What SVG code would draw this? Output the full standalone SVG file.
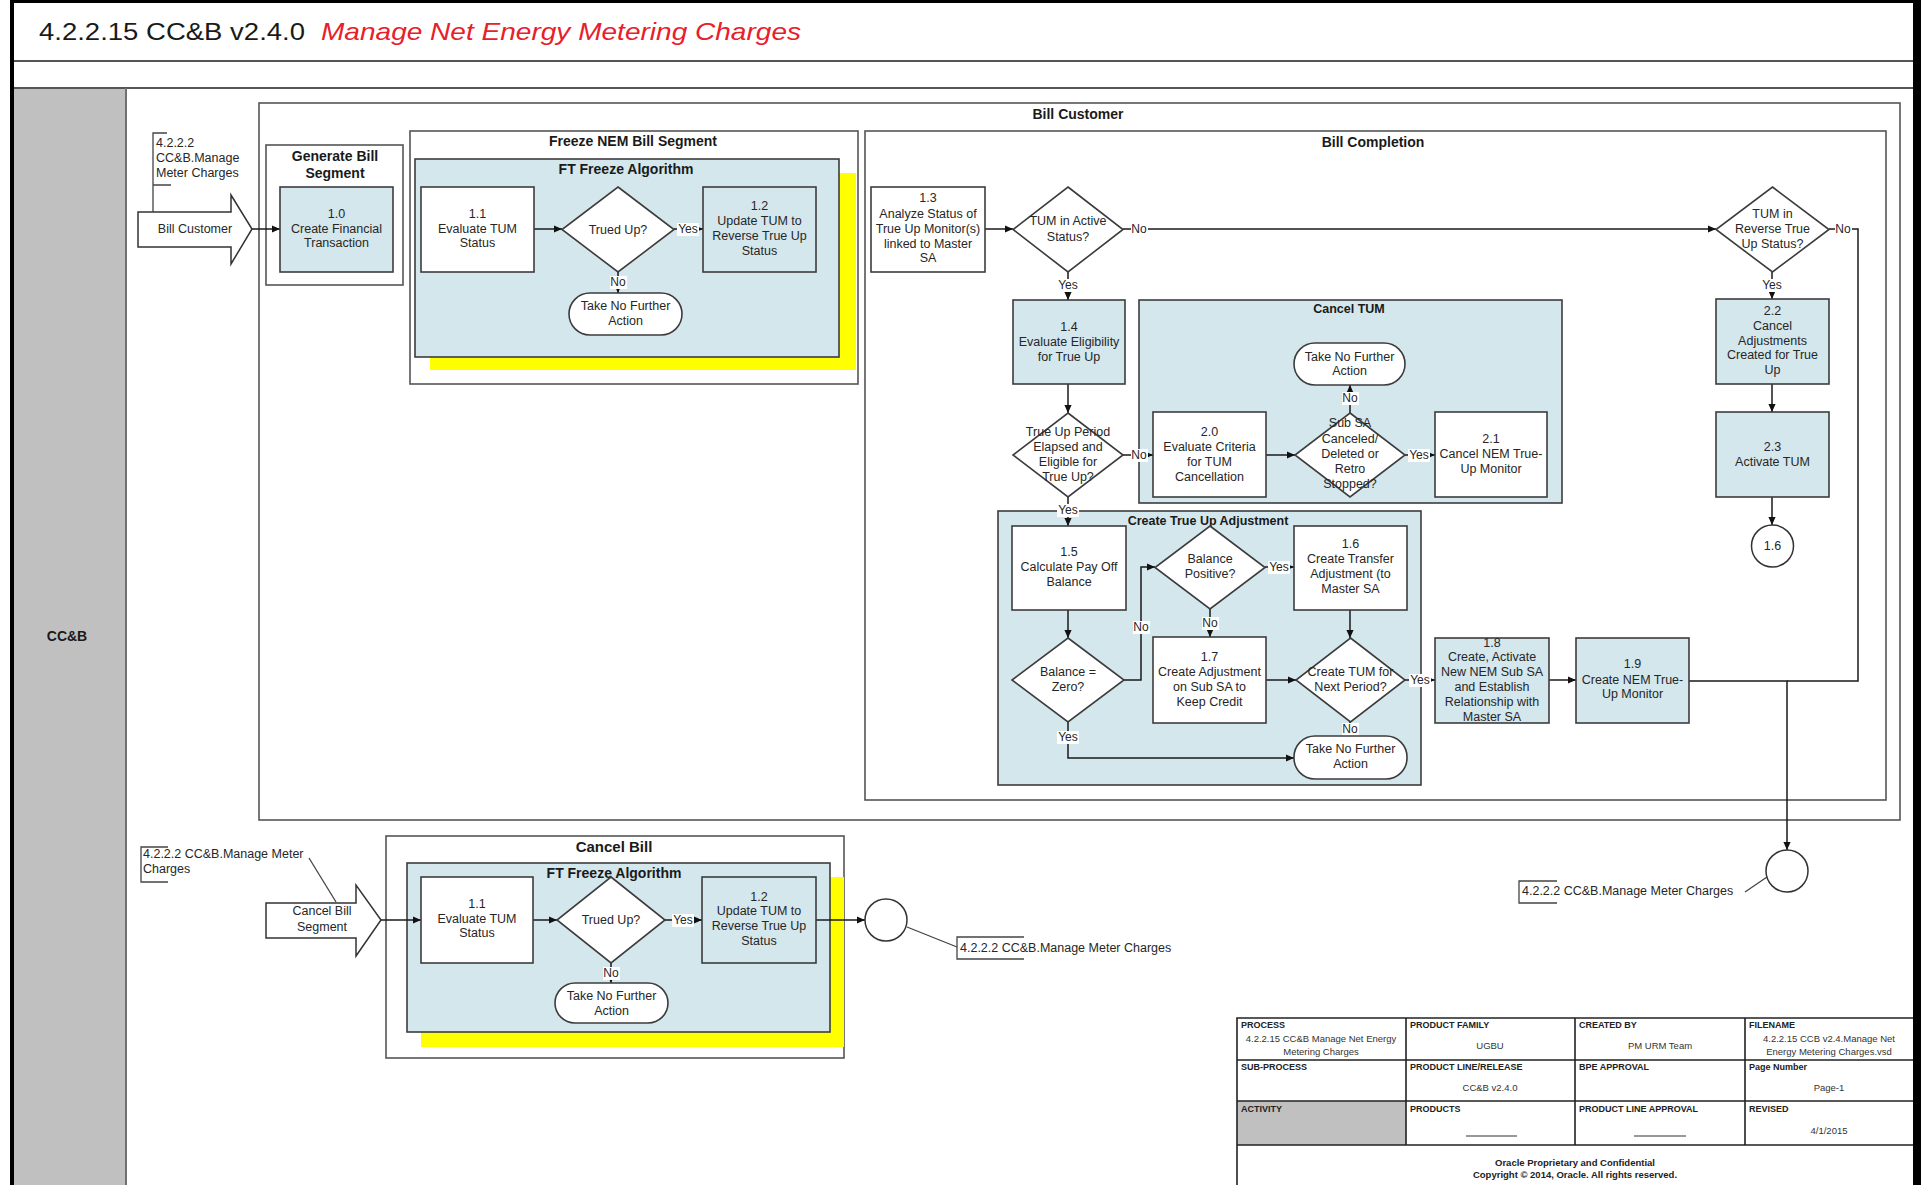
<svg xmlns="http://www.w3.org/2000/svg" width="1921" height="1185" viewBox="0 0 1921 1185">
<defs>
<marker id="ah" viewBox="0 0 10 10" refX="10" refY="5" markerWidth="9" markerHeight="8" markerUnits="userSpaceOnUse" orient="auto"><path d="M0,0.5 L10,5 L0,9.5 z" fill="#111"/></marker>
</defs>
<style>
.grp{fill:#fff;stroke:#555;stroke-width:1.6}
.blue{fill:#D4E7ED;stroke:#3c3c3c;stroke-width:1.6}
.wbox{fill:#fff;stroke:#3c3c3c;stroke-width:1.6}
.yel{fill:#FFFF00}
.conn{fill:none;stroke:#1a1a1a;stroke-width:1.5}
.arr{marker-end:url(#ah)}
.ann{fill:none;stroke:#444;stroke-width:1.3}
text{font-family:"Liberation Sans",Arial,sans-serif}
.t{font-size:12.5px;fill:#262626;text-anchor:middle}
.tl{font-size:12.5px;fill:#262626}
.gl{font-size:14px;font-weight:bold;fill:#1a1a1a;text-anchor:middle}
.gs{font-size:12.5px;font-weight:bold;fill:#1a1a1a;text-anchor:middle}
.lb{font-size:12px;fill:#262626;text-anchor:middle}
.lbg{fill:#fff}
.th{font-size:9px;font-weight:bold;fill:#222}
.tv{font-size:9.5px;fill:#333;text-anchor:middle}
.tf{font-size:9.5px;font-weight:bold;fill:#222;text-anchor:middle}
</style>

<!-- page frame -->
<rect x="0" y="0" width="1921" height="1185" fill="#fff"/>
<rect x="14" y="88" width="112" height="1097" fill="#C0C0C0"/>
<line x1="14" y1="61" x2="1913" y2="61" stroke="#555" stroke-width="2"/>
<line x1="14" y1="88" x2="1913" y2="88" stroke="#555" stroke-width="2"/>
<line x1="126" y1="88" x2="126" y2="1185" stroke="#707070" stroke-width="2"/>
<rect x="10" y="0" width="4" height="1185" fill="#000"/>
<rect x="10" y="0" width="1911" height="3" fill="#000"/>
<rect x="1913" y="0" width="8" height="1185" fill="#000"/>

<!-- title -->
<text x="39" y="40" font-size="24" fill="#1a1a1a" textLength="266" lengthAdjust="spacingAndGlyphs">4.2.2.15 CC&amp;B v2.4.0</text>
<text x="321" y="40" font-size="24" font-style="italic" fill="#E8202A" textLength="480" lengthAdjust="spacingAndGlyphs">Manage Net Energy Metering Charges</text>

<text x="67" y="641" font-size="14" font-weight="bold" fill="#1a1a1a" text-anchor="middle">CC&amp;B</text>

<!-- containers -->
<g id="bill-customer">
<rect class="grp" x="259" y="103" width="1641" height="717"/>
<text class="gl" x="1078" y="119">Bill Customer</text>
</g>
<g id="generate-bill-segment">
<rect class="grp" x="266" y="145" width="137" height="140"/>
<text class="gl" x="335" y="161">Generate Bill</text>
<text class="gl" x="335" y="178">Segment</text>
</g>
<g id="freeze-nem-bill-segment">
<rect class="grp" x="410" y="131" width="448" height="253"/>
<text class="gl" x="633" y="146">Freeze NEM Bill Segment</text>
</g>
<g id="ft-freeze-algorithm">
<rect class="yel" x="430" y="173" width="426" height="197"/>
<rect class="blue" x="415" y="159" width="424" height="198"/>
<text class="gl" x="626" y="174">FT Freeze Algorithm</text>
</g>
<g id="bill-completion">
<rect class="grp" x="865" y="131" width="1021" height="669"/>
<text class="gl" x="1373" y="147">Bill Completion</text>
</g>
<g id="cancel-tum">
<rect class="blue" x="1139" y="300" width="423" height="203"/>
<text class="gs" x="1349" y="313">Cancel TUM</text>
</g>
<g id="create-true-up-adjustment">
<rect class="blue" x="998" y="511" width="423" height="274"/>
<text class="gs" x="1208" y="525">Create True Up Adjustment</text>
</g>
<g id="cancel-bill">
<rect class="grp" x="386" y="836" width="458" height="222"/>
<text x="614" y="852" font-size="15" font-weight="bold" fill="#1a1a1a" text-anchor="middle">Cancel Bill</text>
</g>
<g id="cb-ft-freeze-algorithm">
<rect class="yel" x="421" y="877" width="423" height="170"/>
<rect class="blue" x="407" y="863" width="423" height="169"/>
<text class="gl" x="614" y="878">FT Freeze Algorithm</text>
</g>

<!-- connectors -->
<g id="connectors">
<path class="conn arr" d="M252,229 H280"/>
<path class="conn arr" d="M534,229 H562"/>
<path class="conn arr" d="M674,229 H703"/>
<path class="conn arr" d="M618,272 V293"/>
<path class="conn arr" d="M985,229 H1013"/>
<path class="conn arr" d="M1123,229 H1716"/>
<path class="conn arr" d="M1068,272 V300"/>
<path class="conn arr" d="M1068,384 V413"/>
<path class="conn arr" d="M1123,455 H1153"/>
<path class="conn arr" d="M1068,497 V526"/>
<path class="conn arr" d="M1266,455 H1295"/>
<path class="conn arr" d="M1405,455 H1435"/>
<path class="conn arr" d="M1350,413 V385"/>
<path class="conn arr" d="M1772,272 V299"/>
<path class="conn arr" d="M1772,384 V412"/>
<path class="conn arr" d="M1772,497 V525"/>
<path class="conn" d="M1829,229 H1858 V681 H1787"/>
<path class="conn arr" d="M1068,610 V638"/>
<path class="conn arr" d="M1124,680 H1141 V567 H1155"/>
<path class="conn arr" d="M1265,567 H1294"/>
<path class="conn arr" d="M1210,609 V637"/>
<path class="conn arr" d="M1266,680 H1296"/>
<path class="conn arr" d="M1350,610 V638"/>
<path class="conn arr" d="M1405,680 H1435"/>
<path class="conn arr" d="M1350,722 V736"/>
<path class="conn arr" d="M1068,722 V758 H1294"/>
<path class="conn arr" d="M1549,680 H1576"/>
<path class="conn arr" d="M1689,681 H1787 V850"/>
<path class="conn arr" d="M381,920 H421"/>
<path class="conn arr" d="M533,920 H557"/>
<path class="conn arr" d="M665,920 H702"/>
<path class="conn arr" d="M611,963 V983"/>
<path class="conn arr" d="M816,920 H865"/>
<!-- labels -->
<rect class="lbg" x="677" y="223" width="22" height="13"/><text class="lb" x="688" y="233">Yes</text>
<rect class="lbg" x="610" y="276" width="17" height="13"/><text class="lb" x="618" y="286">No</text>
<rect class="lbg" x="1131" y="223" width="17" height="13"/><text class="lb" x="1139" y="233">No</text>
<rect class="lbg" x="1057" y="279" width="22" height="13"/><text class="lb" x="1068" y="289">Yes</text>
<rect class="lbg" x="1131" y="449" width="17" height="13"/><text class="lb" x="1139" y="459">No</text>
<rect class="lbg" x="1057" y="504" width="22" height="13"/><text class="lb" x="1068" y="514">Yes</text>
<rect class="lbg" x="1408" y="449" width="22" height="13"/><text class="lb" x="1419" y="459">Yes</text>
<rect class="lbg" x="1342" y="392" width="17" height="13"/><text class="lb" x="1350" y="402">No</text>
<rect class="lbg" x="1761" y="279" width="22" height="13"/><text class="lb" x="1772" y="289">Yes</text>
<rect class="lbg" x="1835" y="223" width="17" height="13"/><text class="lb" x="1843" y="233">No</text>
<rect class="lbg" x="1133" y="621" width="17" height="13"/><text class="lb" x="1141" y="631">No</text>
<rect class="lbg" x="1268" y="561" width="22" height="13"/><text class="lb" x="1279" y="571">Yes</text>
<rect class="lbg" x="1202" y="617" width="17" height="13"/><text class="lb" x="1210" y="627">No</text>
<rect class="lbg" x="1409" y="674" width="22" height="13"/><text class="lb" x="1420" y="684">Yes</text>
<rect class="lbg" x="1342" y="723" width="17" height="13"/><text class="lb" x="1350" y="733">No</text>
<rect class="lbg" x="1057" y="731" width="22" height="13"/><text class="lb" x="1068" y="741">Yes</text>
<rect class="lbg" x="672" y="914" width="22" height="13"/><text class="lb" x="683" y="924">Yes</text>
<rect class="lbg" x="603" y="967" width="17" height="13"/><text class="lb" x="611" y="977">No</text>
</g>

<!-- nodes -->
<g id="bill-customer-arrow">
<polygon points="138,212 231,212 231,195 252,229 231,264 231,247 138,247" fill="#fff" stroke="#333" stroke-width="1.5"/>
<text class="t" x="195" y="233" font-size="12">Bill Customer</text>
</g>
<g id="ref-meter-charges-1">
<path class="ann" d="M167,133 H153 V212 M153,185 H171"/>
<text class="tl" x="156" y="147" font-size="12">4.2.2.2</text>
<text class="tl" x="156" y="162" font-size="12">CC&amp;B.Manage</text>
<text class="tl" x="156" y="177" font-size="12">Meter Charges</text>
</g>
<g id="n1-0">
<rect class="blue" x="280" y="187" width="113" height="85"/>
<text class="t" x="336.5" y="218">1.0</text><text class="t" x="336.5" y="233">Create Financial</text><text class="t" x="336.5" y="247">Transaction</text>
</g>
<g id="n1-1">
<rect class="wbox" x="421" y="187" width="113" height="85"/>
<text class="t" x="477.5" y="218">1.1</text><text class="t" x="477.5" y="233">Evaluate TUM</text><text class="t" x="477.5" y="247">Status</text>
</g>
<g id="d-trued-up">
<polygon class="wbox" points="618,187 674,229.5 618,272 562,229.5"/>
<text class="t" x="618" y="234">Trued Up?</text>
</g>
<g id="n1-2">
<rect class="blue" x="703" y="187" width="113" height="85"/>
<text class="t" x="759.5" y="210">1.2</text><text class="t" x="759.5" y="225">Update TUM to</text><text class="t" x="759.5" y="240">Reverse True Up</text><text class="t" x="759.5" y="255">Status</text>
</g>
<g id="term-1">
<rect class="wbox" x="569" y="293" width="113" height="42" rx="21"/>
<text class="t" x="625.5" y="310">Take No Further</text><text class="t" x="625.5" y="325">Action</text>
</g>
<g id="n1-3">
<rect class="wbox" x="871" y="187" width="114" height="85"/>
<text class="t" x="928" y="202">1.3</text><text class="t" x="928" y="218">Analyze Status of</text><text class="t" x="928" y="233">True Up Monitor(s)</text><text class="t" x="928" y="248">linked to Master</text><text class="t" x="928" y="262">SA</text>
</g>
<g id="d-tum-active">
<polygon class="wbox" points="1068,187 1123,229.5 1068,272 1013,229.5"/>
<text class="t" x="1068" y="225">TUM in Active</text><text class="t" x="1068" y="241">Status?</text>
</g>
<g id="d-tum-reverse">
<polygon class="wbox" points="1772.5,187 1829,229.5 1772.5,272 1716,229.5"/>
<text class="t" x="1772.5" y="218">TUM in</text><text class="t" x="1772.5" y="233">Reverse True</text><text class="t" x="1772.5" y="248">Up Status?</text>
</g>
<g id="n1-4">
<rect class="blue" x="1013" y="300" width="112" height="84"/>
<text class="t" x="1069" y="331">1.4</text><text class="t" x="1069" y="346">Evaluate Eligibility</text><text class="t" x="1069" y="361">for True Up</text>
</g>
<g id="d-true-up-period">
<polygon class="wbox" points="1068,413 1123,455 1068,497 1013,455"/>
<text class="t" x="1068" y="436">True Up Period</text><text class="t" x="1068" y="451">Elapsed and</text><text class="t" x="1068" y="466">Eligible for</text><text class="t" x="1068" y="481">True Up?</text>
</g>
<g id="term-cancel-tum">
<rect class="wbox" x="1294" y="343" width="111" height="42" rx="21"/>
<text class="t" x="1349.5" y="361">Take No Further</text><text class="t" x="1349.5" y="375">Action</text>
</g>
<g id="n2-0">
<rect class="wbox" x="1153" y="412" width="113" height="85"/>
<text class="t" x="1209.5" y="436">2.0</text><text class="t" x="1209.5" y="451">Evaluate Criteria</text><text class="t" x="1209.5" y="466">for TUM</text><text class="t" x="1209.5" y="481">Cancellation</text>
</g>
<g id="d-sub-sa">
<polygon class="wbox" points="1350,413 1405,455 1350,497 1295,455"/>
<text class="t" x="1350" y="427">Sub SA</text><text class="t" x="1350" y="443">Canceled/</text><text class="t" x="1350" y="458">Deleted or</text><text class="t" x="1350" y="473">Retro</text><text class="t" x="1350" y="488">Stopped?</text>
</g>
<g id="n2-1">
<rect class="wbox" x="1435" y="412" width="112" height="85"/>
<text class="t" x="1491" y="443">2.1</text><text class="t" x="1491" y="458">Cancel NEM True-</text><text class="t" x="1491" y="473">Up Monitor</text>
</g>
<g id="n2-2">
<rect class="blue" x="1716" y="299" width="113" height="85"/>
<text class="t" x="1772.5" y="315">2.2</text><text class="t" x="1772.5" y="330">Cancel</text><text class="t" x="1772.5" y="345">Adjustments</text><text class="t" x="1772.5" y="359">Created for True</text><text class="t" x="1772.5" y="374">Up</text>
</g>
<g id="n2-3">
<rect class="blue" x="1716" y="412" width="113" height="85"/>
<text class="t" x="1772.5" y="451">2.3</text><text class="t" x="1772.5" y="466">Activate TUM</text>
</g>
<g id="c1-6">
<circle cx="1772.5" cy="546" r="21" fill="#fff" stroke="#333" stroke-width="1.5"/>
<text class="t" x="1772.5" y="550">1.6</text>
</g>
<g id="n1-5">
<rect class="wbox" x="1012" y="526" width="114" height="84"/>
<text class="t" x="1069" y="556">1.5</text><text class="t" x="1069" y="571">Calculate Pay Off</text><text class="t" x="1069" y="586">Balance</text>
</g>
<g id="d-balance-zero">
<polygon class="wbox" points="1068,638 1124,680 1068,722 1012,680"/>
<text class="t" x="1068" y="676">Balance =</text><text class="t" x="1068" y="691">Zero?</text>
</g>
<g id="d-balance-positive">
<polygon class="wbox" points="1210,526 1265,567.5 1210,609 1155,567.5"/>
<text class="t" x="1210" y="563">Balance</text><text class="t" x="1210" y="578">Positive?</text>
</g>
<g id="n1-6">
<rect class="wbox" x="1294" y="526" width="113" height="84"/>
<text class="t" x="1350.5" y="548">1.6</text><text class="t" x="1350.5" y="563">Create Transfer</text><text class="t" x="1350.5" y="578">Adjustment (to</text><text class="t" x="1350.5" y="593">Master SA</text>
</g>
<g id="n1-7">
<rect class="wbox" x="1153" y="637" width="113" height="86"/>
<text class="t" x="1209.5" y="661">1.7</text><text class="t" x="1209.5" y="676">Create Adjustment</text><text class="t" x="1209.5" y="691">on Sub SA to</text><text class="t" x="1209.5" y="706">Keep Credit</text>
</g>
<g id="d-create-tum">
<polygon class="wbox" points="1350.5,638 1405,680 1350.5,722 1296,680"/>
<text class="t" x="1350.5" y="676">Create TUM for</text><text class="t" x="1350.5" y="691">Next Period?</text>
</g>
<g id="term-cta">
<rect class="wbox" x="1294" y="736" width="113" height="43" rx="21"/>
<text class="t" x="1350.5" y="753">Take No Further</text><text class="t" x="1350.5" y="768">Action</text>
</g>
<g id="n1-8">
<rect class="blue" x="1435" y="638" width="114" height="85"/>
<text class="t" x="1492" y="647">1.8</text><text class="t" x="1492" y="661">Create, Activate</text><text class="t" x="1492" y="676">New NEM Sub SA</text><text class="t" x="1492" y="691">and Establish</text><text class="t" x="1492" y="706">Relationship with</text><text class="t" x="1492" y="721">Master SA</text>
</g>
<g id="n1-9">
<rect class="blue" x="1576" y="638" width="113" height="85"/>
<text class="t" x="1632.5" y="668">1.9</text><text class="t" x="1632.5" y="684">Create NEM True-</text><text class="t" x="1632.5" y="698">Up Monitor</text>
</g>
<g id="offpage-1">
<circle cx="1787" cy="871" r="21" fill="#fff" stroke="#333" stroke-width="1.5"/>
</g>
<g id="ref-meter-charges-2">
<path class="ann" d="M1767,877 L1745,892"/>
<path class="ann" d="M1557,881 H1519 V903 H1557"/>
<text class="tl" x="1522" y="895">4.2.2.2 CC&amp;B.Manage Meter Charges</text>
</g>

<!-- cancel bill -->
<g id="cancel-bill-segment-arrow">
<polygon points="266,903 356,903 356,885 381,920 356,956 356,938 266,938" fill="#fff" stroke="#333" stroke-width="1.5"/>
<text class="t" x="322" y="915" font-size="12">Cancel Bill</text>
<text class="t" x="322" y="931" font-size="12">Segment</text>
</g>
<g id="ref-meter-charges-3">
<path class="ann" d="M168,847 H141 V882 H168"/>
<path class="ann" d="M309,858 L336,902"/>
<text class="tl" x="143" y="858" font-size="12">4.2.2.2 CC&amp;B.Manage Meter</text>
<text class="tl" x="143" y="873" font-size="12">Charges</text>
</g>
<g id="cb-n1-1">
<rect class="wbox" x="421" y="877" width="112" height="86"/>
<text class="t" x="477" y="908">1.1</text><text class="t" x="477" y="923">Evaluate TUM</text><text class="t" x="477" y="937">Status</text>
</g>
<g id="cb-d-trued-up">
<polygon class="wbox" points="611,877 665,920 611,963 557,920"/>
<text class="t" x="611" y="924">Trued Up?</text>
</g>
<g id="cb-n1-2">
<rect class="blue" x="702" y="877" width="114" height="86"/>
<text class="t" x="759" y="901">1.2</text><text class="t" x="759" y="915">Update TUM to</text><text class="t" x="759" y="930">Reverse True Up</text><text class="t" x="759" y="945">Status</text>
</g>
<g id="cb-term">
<rect class="wbox" x="555" y="983" width="113" height="40" rx="20"/>
<text class="t" x="611.5" y="1000">Take No Further</text><text class="t" x="611.5" y="1015">Action</text>
</g>
<g id="offpage-2">
<circle cx="886" cy="920" r="21" fill="#fff" stroke="#333" stroke-width="1.5"/>
</g>
<g id="ref-meter-charges-4">
<path class="ann" d="M907,927 L957,947"/>
<path class="ann" d="M1024,937 H957 V959 H1024"/>
<text class="tl" x="960" y="952">4.2.2.2 CC&amp;B.Manage Meter Charges</text>
</g>

<!-- title block -->
<g id="title-block">
<rect x="1237" y="1101" width="169" height="44" fill="#C0C0C0"/>
<path d="M1237,1185 V1018 H1913 M1237,1060 H1913 M1237,1101 H1913 M1237,1145 H1913 M1406,1018 V1145 M1575,1018 V1145 M1745,1018 V1145" fill="none" stroke="#222" stroke-width="1.6"/>
<text class="th" x="1241" y="1028">PROCESS</text>
<text class="th" x="1410" y="1028">PRODUCT FAMILY</text>
<text class="th" x="1579" y="1028">CREATED BY</text>
<text class="th" x="1749" y="1028">FILENAME</text>
<text class="th" x="1241" y="1070">SUB-PROCESS</text>
<text class="th" x="1410" y="1070">PRODUCT LINE/RELEASE</text>
<text class="th" x="1579" y="1070">BPE APPROVAL</text>
<text class="th" x="1749" y="1070">Page Number</text>
<text class="th" x="1241" y="1112">ACTIVITY</text>
<text class="th" x="1410" y="1112">PRODUCTS</text>
<text class="th" x="1579" y="1112">PRODUCT LINE APPROVAL</text>
<text class="th" x="1749" y="1112">REVISED</text>
<text class="tv" x="1321" y="1042">4.2.2.15 CC&amp;B Manage Net Energy</text>
<text class="tv" x="1321" y="1055">Metering Charges</text>
<text class="tv" x="1490" y="1049">UGBU</text>
<text class="tv" x="1660" y="1049">PM URM Team</text>
<text class="tv" x="1829" y="1042">4.2.2.15 CCB v2.4.Manage Net</text>
<text class="tv" x="1829" y="1055">Energy Metering Charges.vsd</text>
<text class="tv" x="1490" y="1091">CC&amp;B v2.4.0</text>
<text class="tv" x="1829" y="1091">Page-1</text>
<text class="tv" x="1829" y="1134">4/1/2015</text>
<line x1="1466" y1="1136" x2="1517" y2="1136" stroke="#333" stroke-width="1"/>
<line x1="1634" y1="1136" x2="1686" y2="1136" stroke="#333" stroke-width="1"/>
<text class="tf" x="1575" y="1166">Oracle Proprietary and Confidential</text>
<text class="tf" x="1575" y="1178">Copyright © 2014, Oracle. All rights reserved.</text>
</g>
</svg>
